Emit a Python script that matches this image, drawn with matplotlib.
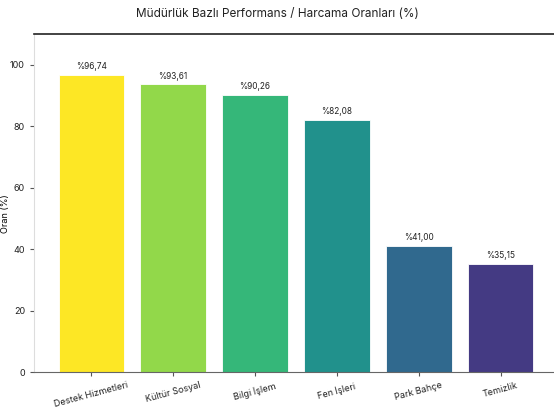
import matplotlib.pyplot as plt

plt.rcParams['font.family'] = ['Inter', 'DejaVu Sans']

mudurlukler = ['Destek Hizmetleri', 'Kültür Sosyal', 'Bilgi İşlem', 'Fen İşleri', 'Park Bahçe', 'Temizlik']
oranlar = [96.74, 93.61, 90.26, 82.08, 41.00, 35.15]
renkler = ['#fde725', '#92d84a', '#35b779', '#21918c', '#30698e', '#443a83']

fig = plt.figure(figsize=(5.54, 4.09), dpi=100)
ax = fig.add_axes([34 / 554, 37 / 409, (558 - 34) / 554, (372 - 34) / 409])

x = range(len(mudurlukler))
bars = ax.bar(x, oranlar, width=0.8, color=renkler, edgecolor='white', linewidth=0.6)

for b, v in zip(bars, oranlar):
    ax.text(b.get_x() + b.get_width() / 2, v + 1.2, '%' + f'{v:.2f}'.replace('.', ','),
            ha='center', va='bottom', fontsize=6, color='#222222')

ax.set_xlim(-0.7, 5.7)
ax.set_ylim(0, 110)
ax.set_xticks(list(x))
ax.set_xticklabels(mudurlukler, rotation=15, fontsize=6.5)
ax.set_yticks([0, 20, 40, 60, 80, 100])
ax.tick_params(axis='both', labelsize=6.5, length=3, color='#555555', labelcolor='#222222')
ax.set_ylabel('Oran (%)', fontsize=6.5)
ax.yaxis.set_label_coords(-0.045, 0.47)

ax.spines['left'].set_color('#dddddd')
ax.spines['bottom'].set_color('#666666')
ax.spines['top'].set_color('#222222')
ax.spines['top'].set_linewidth(1.2)
ax.spines['right'].set_visible(False)

fig.text(0.5, 1 - 14 / 409, 'Müdürlük Bazlı Performans / Harcama Oranları (%)',
         ha='center', va='center', fontsize=8.5, color='#222222')

fig.savefig('out.png', dpi=100)
